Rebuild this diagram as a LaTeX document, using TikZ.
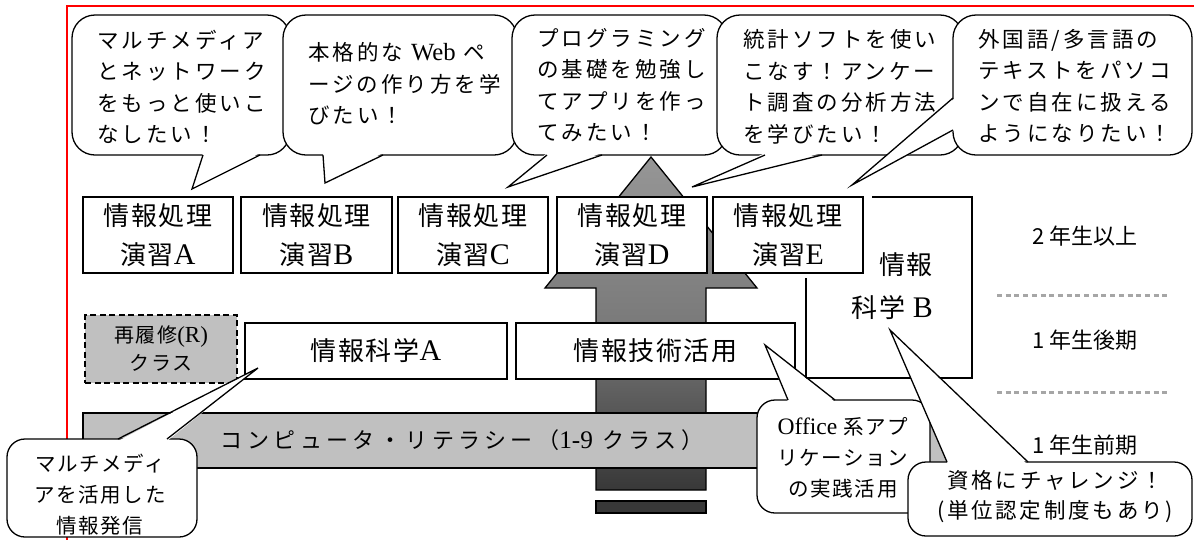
\documentclass[tikz,border=0pt]{standalone}
\usepackage{fontspec}
\setmainfont{Noto Sans CJK JP}
\newfontfamily\latn[Scale=1.15]{Liberation Serif}
\newcommand\lat[1]{{\latn #1}}
\newcommand\fcall{\fontsize{21.5}{31.5}\selectfont\addfontfeature{LetterSpace=14}}
\newcommand\fbig{\fontsize{26}{39}\selectfont\addfontfeature{LetterSpace=6}}
\newcommand\fbigB{\fontsize{26}{43}\selectfont\addfontfeature{LetterSpace=6}}
\newcommand\fsml{\fontsize{20.5}{31}\selectfont\addfontfeature{LetterSpace=8}}
\newcommand\fres{\fontsize{20}{28}\selectfont\addfontfeature{LetterSpace=8}}
\newcommand\flit{\fontsize{22}{25}\selectfont\addfontfeature{LetterSpace=20}}
\newcommand\fsik{\fontsize{21.5}{30}\selectfont\addfontfeature{LetterSpace=13}}
\newcommand\flab{\fontsize{22}{24}\selectfont}
\definecolor{silverg}{HTML}{C0C0C0}
\definecolor{arrtop}{HTML}{969696}
\definecolor{arrmid}{HTML}{7A7A7A}
\definecolor{arrbot}{HTML}{383838}
\definecolor{dotg}{HTML}{A6A6A6}
\begin{document}
\begin{tikzpicture}[x=1pt,y=-1pt,
  bx/.style={draw=black,line width=1.3pt,fill=white,inner sep=0pt,align=center},
  cbody/.style={draw=black,line width=1.3pt,fill=white,rounded corners=#1},
  tail/.style={draw=black,line width=1.3pt,line join=miter},
  txt/.style={inner sep=0pt,align=left},
  dotl/.style={draw=dotg,line width=3pt,dash pattern=on 5pt off 3.7pt},
  lab/.style={inner sep=0pt,font=\flab}]
\useasboundingbox (0,0) rectangle (1194,539);
\fill[white] (0,0) rectangle (1194,539);
% red frame
\draw[red,line width=2pt] (1200,6) -- (67,6) -- (67,545);

% big gray arrow
\draw[line width=1.3pt,top color=arrtop,bottom color=arrbot,middle color=arrmid]
  (651,157) -- (757,288) -- (706,288) -- (706,490) -- (596,490) -- (596,288) -- (545,288) -- cycle;
\draw[line width=1.3pt,fill=arrbot] (596,501) rectangle (706,513);

% Info science B (behind box E)
\fill[white] (806,197) rectangle (972,378);
\draw[line width=1.3pt] (872,197) -- (972,197) -- (972,378) -- (806,378) -- (806,278);
\node[txt,align=right,anchor=east,font=\fbigB] (iB) at (933,286) {情報\\科学 \lat{B}};

% top row boxes
\node[bx,minimum width=150pt,minimum height=76pt,font=\fbig] (A) at (158,235) {情報処理\\演習\lat{A}};
\node[bx,minimum width=151pt,minimum height=76pt,font=\fbig] (B) at (316.5,235) {情報処理\\演習\lat{B}};
\node[bx,minimum width=150pt,minimum height=76pt,font=\fbig] (C) at (473,235) {情報処理\\演習\lat{C}};
\node[bx,minimum width=150pt,minimum height=76pt,font=\fbig] (D) at (632,235) {情報処理\\演習\lat{D}};
\node[bx,minimum width=150pt,minimum height=76pt,font=\fbig] (E) at (788,235) {情報処理\\演習\lat{E}};

% second row
\node[bx,fill=silverg,dash pattern=on 6pt off 3.5pt,minimum width=152pt,minimum height=68pt,font=\fres] (R) at (161,349) {再履修\lat{(R)}\\クラス};
\node[bx,minimum width=262pt,minimum height=56pt,font=\fbig] (ISA) at (376,351) {情報科学\lat{A}};
\node[bx,minimum width=279pt,minimum height=56pt,font=\fbig] (IT) at (655.5,351) {情報技術活用};

% literacy bar
\node[bx,fill=silverg,minimum width=875pt,minimum height=55pt] (lit) at (520.5,440.5) {};
\node[inner sep=0pt,font=\flit] (littext) at (462,440) {コンピュータ・リテラシー（\lat{1-9} クラス）};

% right labels
\node[lab] (y2) at (1085,236) {2 年生以上};
\node[lab] (y1b) at (1085,340) {1 年生後期};
\node[lab] (y1a) at (1085,445) {1 年生前期};
\draw[dotl] (997,295) -- (1170,295);
\draw[dotl] (997,392) -- (1170,392);

% top callouts
\draw[cbody=23pt] (72,15) rectangle (290,155);
\fill[white] (203,153) -- (192,189) -- (260,153) -- cycle;
\draw[tail] (203,155) -- (192,189) -- (260,155);
\node[txt,anchor=west,font=\fcall] (c1) at (97,87) {マルチメディア\\とネットワーク\\をもっと使いこ\\なしたい！};

\draw[cbody=23pt] (283,15) rectangle (517,155);
\fill[white] (323,153) -- (325,183) -- (383,153) -- cycle;
\draw[tail] (323,155) -- (325,183) -- (383,155);
\node[txt,anchor=west,font=\fcall] (c2) at (308,84) {本格的な \lat{Web} ペ\\ージの作り方を学\\びたい！};

\draw[cbody=23pt] (512,15) rectangle (727,155);
\fill[white] (547,153) -- (508,187) -- (602,153) -- cycle;
\draw[tail] (547,155) -- (508,187) -- (602,155);
\node[txt,anchor=west,font=\fcall] (c3) at (537,85) {プログラミング\\の基礎を勉強し\\てアプリを作っ\\てみたい！};

\draw[cbody=23pt] (717,15) rectangle (963,155);
\fill[white] (765,153) -- (692,187) -- (822,153) -- cycle;
\draw[tail] (765,155) -- (692,187) -- (822,155);
\node[txt,anchor=west,font=\fcall] (c4) at (743,87) {統計ソフトを使い\\こなす！アンケー\\ト調査の分析方法\\を学びたい！};

\draw[cbody=23pt] (953,15) rectangle (1192,155);
\fill[white] (955,98) -- (852,185) -- (955,130) -- cycle;
\draw[tail] (953,98) -- (852,185) -- (953,130);
\node[txt,anchor=west,font=\fcall] (c5) at (978,86) {外国語/多言語の\\テキストをパソコ\\ンで自在に扱える\\ようになりたい！};

% bottom-left callout
\draw[cbody=18pt] (7,439) rectangle (197,537);
\fill[white] (118,441) -- (258,368) -- (167,441) -- cycle;
\draw[tail] (118,439) -- (258,368) -- (167,439);
\node[txt,align=center,font=\fsml] (c6) at (100,495) {マルチメディ\\アを活用した\\情報発信};

% Office callout
\draw[cbody=18pt] (757,400) rectangle (930,513);
\fill[white] (788,402) -- (765,345) -- (835,402) -- cycle;
\draw[tail] (788,400) -- (765,345) -- (835,400);
\node[txt,align=center,font=\fsml] (c7) at (843,458) {\lat{Office} 系アプ\\リケーション\\の実践活用};

% qualification callout
\draw[cbody=18pt] (908,462) rectangle (1192,536);
\fill[white] (948,464) -- (890,330) -- (1027,464) -- cycle;
\draw[tail] (947,462) -- (890,330) -- (1028,462);
\node[txt,align=center,font=\fsik] (c8) at (1055,497) {資格にチャレンジ！\\(単位認定制度もあり)};
\end{tikzpicture}
\end{document}
